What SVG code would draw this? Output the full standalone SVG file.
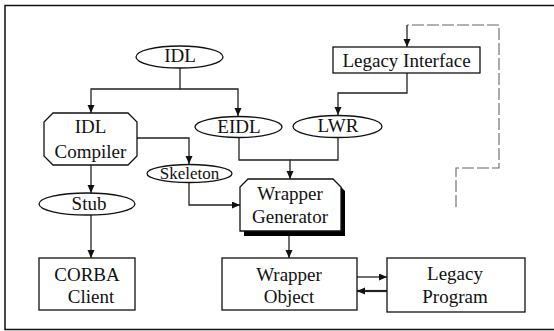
<svg xmlns="http://www.w3.org/2000/svg" width="554" height="331" viewBox="0 0 554 331">
  <style>
    text { font-family: 'Liberation Serif', 'Tinos', 'Times New Roman', Times, serif; font-size: 19px; fill: #111; text-anchor: middle; }
    .sm { font-size: 17px; }
    .shape { fill: #fff; stroke: #111; stroke-width: 1.3; }
    .wire { fill: none; stroke: #222; stroke-width: 1.3; }
    .thick { stroke-width: 2.2; }
    .dash { fill: none; stroke: #666; stroke-width: 1.1; stroke-dasharray: 12 3; }
    .frame { fill: none; stroke: #111; stroke-width: 1.5; }
  </style>
  <defs>
    <marker id="arrow" markerUnits="userSpaceOnUse" markerWidth="9" markerHeight="8" refX="8" refY="3.5" orient="auto">
      <path d="M0,0 L8,3.5 L0,7 z" fill="#111"/>
    </marker>
  </defs>

  <rect width="554" height="331" fill="#fff"/>

  <!-- outer frame (open on the right) -->
  <path class="frame" d="M554,5.5 H5 V329.5 H554"/>

  <!-- connectors -->
  <g id="connectors">
    <path class="wire" d="M180,68 V89 H91 V113" marker-end="url(#arrow)"/>
    <path class="wire" d="M180,89 H238 V116" marker-end="url(#arrow)"/>
    <path class="wire" d="M91,165 V193" marker-end="url(#arrow)"/>
    <path class="wire" d="M91,215 V258" marker-end="url(#arrow)"/>
    <path class="wire" d="M137,138 H189 V164" marker-end="url(#arrow)"/>
    <path class="wire" d="M189,182 V205 H240" marker-end="url(#arrow)"/>
    <path class="wire" d="M239,137 V160 H290 V179" marker-end="url(#arrow)"/>
    <path class="wire" d="M338,137 V160 H290"/>
    <path class="wire" d="M407,73 V93 H338 V115" marker-end="url(#arrow)"/>
    <path class="wire" d="M289,236 V258" marker-end="url(#arrow)"/>
    <path class="wire" d="M356,277 H387" marker-end="url(#arrow)"/>
    <path class="wire thick" d="M387,291 H357" marker-end="url(#arrow)"/>
    <path class="dash" d="M456,207 V168 H499 V25 H407"/>
    <path class="wire" d="M407,25 V47" marker-end="url(#arrow)"/>
  </g>

  <g id="idl">
    <ellipse class="shape" cx="179.5" cy="57" rx="43.5" ry="11"/>
    <text x="180" y="62">IDL</text>
  </g>

  <g id="legacy-interface">
    <rect class="shape" x="333" y="47" width="147" height="26"/>
    <text x="406.5" y="67">Legacy Interface</text>
  </g>

  <g id="idl-compiler">
    <path class="shape" d="M53,113 H128 L137,122 V156 L128,165 H53 L44,156 V122 Z"/>
    <text x="90.5" y="133">IDL</text>
    <text x="90.5" y="158">Compiler</text>
  </g>

  <g id="eidl">
    <ellipse class="shape" cx="238.5" cy="127" rx="43.5" ry="10.5"/>
    <text x="239" y="133">EIDL</text>
  </g>

  <g id="lwr">
    <ellipse class="shape" cx="337.5" cy="126.5" rx="44.5" ry="11"/>
    <text x="338" y="132">LWR</text>
  </g>

  <g id="skeleton">
    <ellipse class="shape" cx="189.5" cy="173.5" rx="42.5" ry="9"/>
    <text class="sm" x="189.5" y="179">Skeleton</text>
  </g>

  <g id="stub">
    <ellipse class="shape" cx="87" cy="204" rx="48" ry="11"/>
    <text x="89" y="210">Stub</text>
  </g>

  <g id="wrapper-generator">
    <path d="M252,183 H337 L345,191 V236 H244 V191 Z" fill="#000"/>
    <path class="shape" d="M248,179 H333 L341,187 V231 H240 V187 Z"/>
    <text x="290" y="200">Wrapper</text>
    <text x="290" y="223">Generator</text>
  </g>

  <g id="corba-client">
    <rect class="shape" x="39" y="258" width="96" height="52"/>
    <text x="87" y="281">CORBA</text>
    <text x="91" y="303">Client</text>
  </g>

  <g id="wrapper-object">
    <rect class="shape" x="222" y="258" width="135" height="52"/>
    <text x="289" y="281">Wrapper</text>
    <text x="289" y="303">Object</text>
  </g>

  <g id="legacy-program">
    <rect class="shape" x="387" y="258" width="138" height="54"/>
    <text x="455" y="280">Legacy</text>
    <text x="455" y="303">Program</text>
  </g>
</svg>
